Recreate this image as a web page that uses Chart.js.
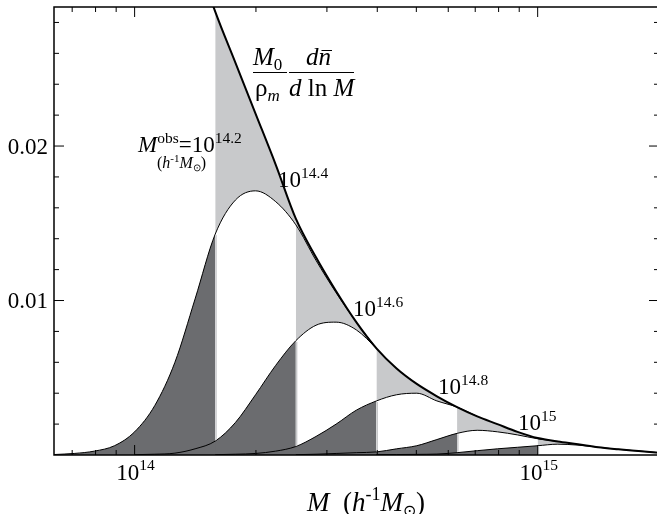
<!DOCTYPE html>
<html>
<head>
<meta charset="utf-8">
<title>mass function by M_obs bin</title>
<script src="https://cdn.jsdelivr.net/npm/chart.js@4.4.1/dist/chart.umd.min.js"></script>
<style>
  html, body { margin: 0; padding: 0; background: #fff; overflow: hidden; }
  #box { width: 662px; height: 514px; }
</style>
</head>
<body>
<div id="box"><canvas id="massChart" width="662" height="514"></canvas></div>
<script>
const pad = n => Array(n).fill(null);

// log10 of true mass (h^-1 Msun)
const logM = [13.80, 13.85, 13.90, 13.95, 14.00, 14.05, 14.10, 14.15, 14.20, 14.25,
              14.30, 14.35, 14.40, 14.45, 14.50, 14.55, 14.60, 14.65, 14.70, 14.75,
              14.80, 14.85, 14.90, 14.95, 15.00, 15.05, 15.10, 15.15, 15.20, 15.25, 15.30];

// M0/rho_m dn/dlnM
const massFunc = [...pad(6), 0.0365, 0.0325, 0.0287, 0.0254,
                  0.0221, 0.0188, 0.0153, 0.0128, 0.0106, 0.0086, 0.0069, 0.0056, 0.0046, 0.0038,
                  0.0031, 0.0025, 0.0020, 0.0015, 0.0011, 0.00088, 0.00070, 0.00050, 0.00037, 0.00026, 0.00015];

// part of the mass function that lands above each M_obs threshold
const above142 = [0.00003, 0.0001, 0.00025, 0.0006, 0.0015, 0.0032, 0.0060, 0.0101, 0.0143, 0.0165,
                  0.0171, 0.0164, 0.0149, 0.0126, 0.0105, 0.0086, 0.0069, ...pad(14)];
const above144 = [...pad(4), 0.00002, 0.00005, 0.00012, 0.0004, 0.0009, 0.0021,
                  0.0039, 0.0058, 0.0074, 0.0084, 0.0086, 0.0081, 0.0069, 0.0056, 0.0046, ...pad(12)];
const above146 = [...pad(8), 0.00002, 0.00005,
                  0.0001, 0.00025, 0.00055, 0.0012, 0.0020, 0.0029, 0.0035, 0.0039, 0.0040, 0.0035,
                  0.0031, 0.0025, ...pad(9)];
const above148 = [...pad(12), 0.00002, 0.00005, 0.0001, 0.00015, 0.0002, 0.0004, 0.0006, 0.0010,
                  0.0014, 0.0016, 0.0015, 0.0013, 0.00105, 0.00088, ...pad(5)];
const above150 = [...pad(16), 0.00002, 0.00003, 0.00004, 0.00006,
                  0.00015, 0.00028, 0.0004, 0.0005, 0.0006, 0.0007, 0.00064, 0.0005, 0.00037, 0.00026, 0.00015];

const binEdges = [14.2, 14.4, 14.6, 14.8, 15.0];
const binLabels = ['14.2', '14.4', '14.6', '14.8', '15'];

const xMajor = [1e14, 1e15];
const xMinor = [7e13, 8e13, 9e13, 2e14, 3e14, 4e14, 5e14, 6e14, 7e14, 8e14, 9e14, 2e15];
const yTicks = [0.002, 0.004, 0.006, 0.008, 0.010, 0.012, 0.014, 0.016, 0.018, 0.020,
                0.022, 0.024, 0.026, 0.028];
const yLabels = ['0.01', '0.02'];

const curves = [above142, above144, above146, above148, above150];
const DARK = '#6b6c6f';
const LIGHT = '#c8c9cb';
const NONE = 'rgba(0,0,0,0)';
const EPS = 1e-6;
const xy = ys => logM.map((x, i) => ({x: x, y: ys[i]}));

const datasets = [{
  data: xy(massFunc), borderColor: '#000', borderWidth: 2, fill: false
}];
curves.forEach((c, k) => {
  const lo = binEdges[k];
  const hi = k + 1 < binEdges.length ? binEdges[k + 1] : 99;
  // dark: below the curve, left of its threshold
  datasets.push({
    data: xy(c), borderColor: '#000', borderWidth: 1,
    fill: 'origin', backgroundColor: NONE,
    segment: { backgroundColor: s => s.p1.parsed.x <= lo + EPS ? DARK : NONE }
  });
  // light: between the curve and the mass function inside its bin
  datasets.push({
    data: xy(c), borderColor: NONE, borderWidth: 0,
    fill: { target: 0 }, backgroundColor: NONE,
    segment: { backgroundColor: s => (s.p0.parsed.x >= lo - EPS && s.p1.parsed.x <= hi + EPS) ? LIGHT : NONE }
  });
});

const SERIF = '"Liberation Serif", "Times New Roman", serif';
const f = (size, it) => (it ? 'italic ' : '') + size + 'px ' + SERIF;

function textRuns(ctx, x, y, parts, align) {
  ctx.save();
  let w = 0;
  parts.forEach(p => { ctx.font = p[1]; w += ctx.measureText(p[0]).width; });
  let x0 = x;
  if (align === 'right') x0 = x - w;
  if (align === 'center') x0 = x - w / 2;
  ctx.fillStyle = '#000';
  ctx.textBaseline = 'alphabetic';
  let cx = x0;
  const pos = [];
  parts.forEach(p => {
    ctx.font = p[1];
    ctx.fillText(p[0], cx, y + (p[2] || 0));
    const pw = ctx.measureText(p[0]).width;
    pos.push([cx, cx + pw]);
    cx += pw;
  });
  ctx.restore();
  return pos;
}

const decor = {
  id: 'decor',
  afterDatasetsDraw(chart) {
    const ctx = chart.ctx;
    const xs = chart.scales.x, ys = chart.scales.y;
    const a = chart.chartArea;

    // thin light edges where the dark regions meet the white ones
    ctx.save();
    ctx.strokeStyle = LIGHT;
    ctx.lineWidth = 1.5;
    binEdges.forEach((e, k) => {
      const i = logM.findIndex(v => Math.abs(v - e) < EPS);
      const top = curves[k][i];
      const bot = k + 1 < curves.length ? curves[k + 1][i] : 0;
      const px = xs.getPixelForValue(e) + 0.8;
      ctx.beginPath();
      ctx.moveTo(px, ys.getPixelForValue(bot) - 1);
      ctx.lineTo(px, ys.getPixelForValue(top) + 1);
      ctx.stroke();
    });
    ctx.restore();

    // frame and inward ticks
    ctx.save();
    ctx.strokeStyle = '#000';
    ctx.lineWidth = 1.5;
    ctx.strokeRect(a.left, a.top, a.right - a.left, a.bottom - a.top);
    ctx.lineWidth = 1;
    const xt = (m, len) => {
      const px = xs.getPixelForValue(Math.log10(m));
      ctx.beginPath();
      ctx.moveTo(px, a.bottom); ctx.lineTo(px, a.bottom - len);
      ctx.moveTo(px, a.top); ctx.lineTo(px, a.top + len);
      ctx.stroke();
    };
    xMinor.forEach(m => xt(m, 5));
    xMajor.forEach(m => xt(m, 10));
    yTicks.forEach((v, i) => {
      const py = ys.getPixelForValue(v);
      const len = (i + 1) % 5 === 0 ? 10 : 5;
      ctx.beginPath();
      ctx.moveTo(a.left, py); ctx.lineTo(a.left + len, py);
      ctx.moveTo(a.right, py); ctx.lineTo(a.right - len, py);
      ctx.stroke();
    });
    ctx.restore();

    // tick labels
    yLabels.forEach(t => {
      textRuns(ctx, a.left - 6, ys.getPixelForValue(parseFloat(t)) + 7.5, [[t, f(23)]], 'right');
    });
    xMajor.forEach(m => {
      textRuns(ctx, xs.getPixelForValue(Math.log10(m)) + 1, a.bottom + 25,
        [['10', f(23)], [String(Math.round(Math.log10(m))), f(15.5), -10]], 'center');
    });

    // axis title
    textRuns(ctx, 307, 511, [['M', f(27, true)], ['  (', f(27)], ['h', f(27, true)],
      ['-1', f(18), -11], ['M', f(27, true)], ['\u2299', f(16), 5], [')', f(27)]]);

    // bin labels
    textRuns(ctx, 138, 152, [['M', f(23, true)], ['obs', f(15.5), -9], ['=10', f(23)], [binLabels[0], f(15.5), -9]]);
    textRuns(ctx, 157, 168, [['(', f(16)], ['h', f(16, true)], ['-1', f(11), -6], ['M', f(16, true)],
      ['\u2299', f(10), 3], [')', f(16)]]);
    const spots = [[278, 187], [353, 316], [438, 394], [518, 430]];
    spots.forEach((p, k) => {
      textRuns(ctx, p[0], p[1], [['10', f(23)], [binLabels[k + 1], f(15.5), -9]]);
    });

    // formula  M0/rho_m  dn/dlnM
    textRuns(ctx, 253, 65, [['M', f(25, true)], ['0', f(17), 5]]);
    textRuns(ctx, 255, 96, [['\u03c1', f(25)], ['m', f(17, true), 5]]);
    const dn = textRuns(ctx, 306, 65, [['d', f(25, true)], ['n', f(25, true)]]);
    textRuns(ctx, 289, 96, [['d', f(25, true)], [' ln ', f(25)], ['M', f(25, true)]]);
    ctx.save();
    ctx.strokeStyle = '#000';
    ctx.lineWidth = 1.2;
    ctx.beginPath();
    ctx.moveTo(253, 72.5); ctx.lineTo(287, 72.5);
    ctx.moveTo(289, 72.5); ctx.lineTo(354, 72.5);
    ctx.moveTo(dn[1][0] + 3, 50.5); ctx.lineTo(dn[1][1] + 1, 50.5);
    ctx.stroke();
    ctx.restore();
  }
};

new Chart(document.getElementById('massChart'), {
  type: 'line',
  data: { datasets: datasets },
  options: {
    responsive: false,
    animation: false,
    layout: { padding: { left: 54, top: 7, right: 3, bottom: 59 } },
    elements: {
      point: { radius: 0, hoverRadius: 0 },
      line: { cubicInterpolationMode: 'monotone' }
    },
    scales: {
      x: { type: 'linear', min: 13.8, max: Math.log10(2e15), display: false },
      y: { type: 'linear', min: 0, max: 0.029, display: false }
    },
    plugins: {
      legend: { display: false },
      tooltip: { enabled: false },
      filler: { drawTime: 'beforeDatasetsDraw' }
    },
    events: []
  },
  plugins: [decor]
});
</script>
</body>
</html>
